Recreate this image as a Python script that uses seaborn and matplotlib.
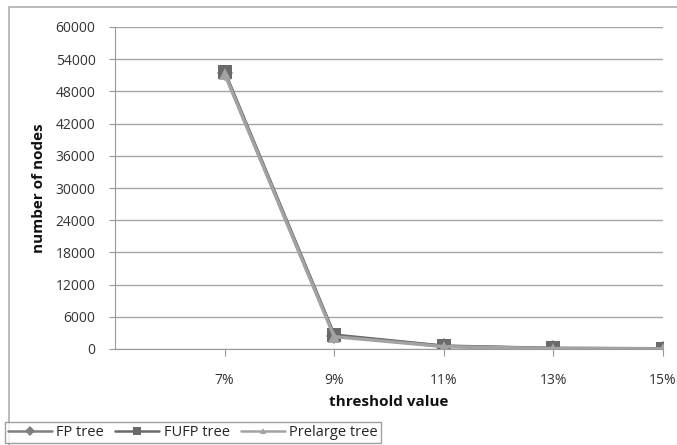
import matplotlib
matplotlib.use("Agg")
import matplotlib.pyplot as plt
import seaborn as sns
import pandas as pd
from matplotlib.patches import Rectangle

thresholds = ["7%", "9%", "11%", "13%", "15%"]
fp_tree = [51500, 2500, 500, 100, 50]
fufp_tree = [51600, 2600, 550, 120, 60]
prelarge_tree = [51300, 2300, 450, 90, 40]
series_names = ["FP tree", "FUFP tree", "Prelarge tree"]
y_ticks = [0, 6000, 12000, 18000, 24000, 30000, 36000, 42000, 48000, 54000, 60000]

rows = []
for name, vals in zip(series_names, [fp_tree, fufp_tree, prelarge_tree]):
    for t, v in zip(thresholds, vals):
        rows.append({"threshold": t, "nodes": v, "series": name})
df = pd.DataFrame(rows)

sns.set_style("white")
plt.rcParams["font.family"] = ["Open Sans", "DejaVu Sans"]

fig = plt.figure(figsize=(6.77, 4.45), dpi=100)
ax = fig.add_axes([115 / 677, 1 - 349 / 445, (663 - 115) / 677, (349 - 27) / 445])

palette = {"FP tree": "#7f7f7f", "FUFP tree": "#6a6a6a", "Prelarge tree": "#a3a3a3"}
markers = {"FP tree": "D", "FUFP tree": "s", "Prelarge tree": "^"}
sizes = {"FP tree": 8, "FUFP tree": 10, "Prelarge tree": 8}

for name in series_names:
    sub = df[df["series"] == name]
    sns.lineplot(data=sub, x="threshold", y="nodes", ax=ax, color=palette[name],
                 marker=markers[name], markersize=sizes[name], markeredgewidth=0,
                 linewidth=2.4, label=name, sort=False)

ax.set_xlim(-1, 4)
ax.set_ylim(0, 60000)
ax.set_yticks(y_ticks)
ax.set_yticklabels([str(v) for v in y_ticks])
ax.yaxis.grid(True, color="#a6a6a6", linewidth=1)
ax.set_axisbelow(True)
for s in ["top", "right"]:
    ax.spines[s].set_visible(False)
ax.spines["left"].set_color("#9a9a9a")
ax.spines["bottom"].set_color("#9a9a9a")
ax.tick_params(axis="y", length=4, color="#9a9a9a", labelsize=10, labelcolor="#333333", pad=10)
ax.tick_params(axis="x", length=5, color="#9a9a9a", labelsize=10, labelcolor="#333333", pad=12, direction="out")
ax.tick_params(axis="both", which="both", left=True, bottom=True)
ax.set_xlabel("threshold value", fontsize=11, fontweight="bold", labelpad=5, color="#111111")
ax.set_ylabel("number of nodes", fontsize=11, fontweight="bold", labelpad=7, color="#111111")

leg = ax.legend(loc="lower left", bbox_to_anchor=(5 / 677, 2 / 445), bbox_transform=fig.transFigure,
                ncol=3, frameon=True, fancybox=False, fontsize=10.5, handlelength=3.0,
                handletextpad=0.3, columnspacing=0.8, borderpad=0.2, borderaxespad=0,
                markerscale=0.6)
leg.get_frame().set_edgecolor("#8a8a8a")
leg.get_frame().set_linewidth(1)
for h in leg.legend_handles:
    h.set_linewidth(1.8)

fig.patches.append(Rectangle((9 / 677, -0.02), 1.0, 1 - 7 / 445 + 0.02, transform=fig.transFigure,
                             fill=False, edgecolor="#b0b0b0", linewidth=1.2, zorder=-1))

fig.savefig("out.png", dpi=100, facecolor="white")
